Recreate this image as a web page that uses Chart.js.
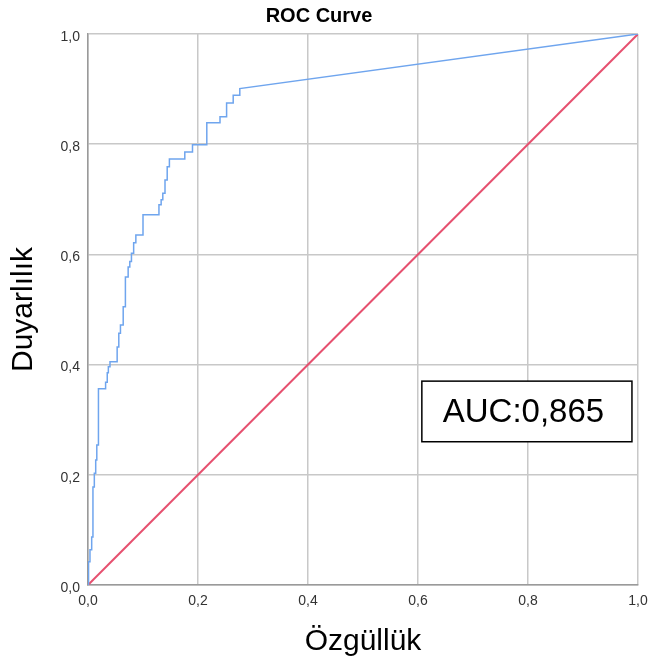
<!DOCTYPE html>
<html>
<head>
<meta charset="utf-8">
<script src="https://cdn.jsdelivr.net/npm/chart.js@4/dist/chart.umd.min.js"></script>
<style>
  html, body { margin: 0; padding: 0; background: #fff; }
  #wrap { width: 651px; height: 666px; }
</style>
</head>
<body>
<div id="wrap"><canvas id="roc"></canvas></div>
<script>
/* ROC curve — corner points */
const FPR = [0, 0.001, 0.0036, 0.0036, 0.0067, 0.0067, 0.009, 0.009, 0.0115, 0.0115,
  0.014, 0.014, 0.016, 0.016, 0.019, 0.019, 0.032, 0.032, 0.035, 0.035,
  0.037, 0.037, 0.04, 0.04, 0.053, 0.053, 0.056, 0.056, 0.059, 0.059,
  0.064, 0.064, 0.068, 0.068, 0.073, 0.073, 0.076, 0.076, 0.079, 0.079,
  0.083, 0.083, 0.087, 0.087, 0.1, 0.1, 0.129, 0.129, 0.133, 0.133,
  0.136, 0.136, 0.14, 0.14, 0.144, 0.144, 0.148, 0.148, 0.176, 0.176,
  0.19, 0.19, 0.216, 0.216, 0.24, 0.24, 0.252, 0.252, 0.264, 0.264,
  0.276, 0.276, 1];
const TPR = [0, 0.042, 0.042, 0.064, 0.064, 0.087, 0.087, 0.178, 0.178, 0.203,
  0.203, 0.227, 0.227, 0.254, 0.254, 0.356, 0.356, 0.368, 0.368, 0.385,
  0.385, 0.396, 0.396, 0.405, 0.405, 0.432, 0.432, 0.457, 0.457, 0.472,
  0.472, 0.505, 0.505, 0.559, 0.559, 0.577, 0.577, 0.587, 0.587, 0.602,
  0.602, 0.621, 0.621, 0.635, 0.635, 0.672, 0.672, 0.69, 0.69, 0.699,
  0.699, 0.711, 0.711, 0.735, 0.735, 0.759, 0.759, 0.773, 0.773, 0.786,
  0.786, 0.799, 0.799, 0.839, 0.839, 0.85, 0.85, 0.875, 0.875, 0.889,
  0.889, 0.901, 1];
const REF_X = [0, 1];
const REF_Y = [0, 1];

const AUC_TEXT = "AUC:0,865";
const AUC_BOX = { x0: 0.607, x1: 0.989, y0: 0.37, y1: 0.26, tx: 0.645 };

const FONT = "'Liberation Sans', Arial, sans-serif";
const fmt = (v) => v.toFixed(1).replace(".", ",");
const pts = (xs, ys) => xs.map((x, i) => ({ x, y: ys[i] }));

const aucBox = {
  id: "aucBox",
  afterDraw(chart) {
    const { ctx, scales: { x, y } } = chart;
    const l = x.getPixelForValue(AUC_BOX.x0), r = x.getPixelForValue(AUC_BOX.x1);
    const t = y.getPixelForValue(AUC_BOX.y0), b = y.getPixelForValue(AUC_BOX.y1);
    ctx.save();
    ctx.fillStyle = "#fff";
    ctx.fillRect(l, t, r - l, b - t);
    ctx.strokeStyle = "#000";
    ctx.lineWidth = 1.5;
    ctx.strokeRect(l, t, r - l, b - t);
    ctx.fillStyle = "#000";
    ctx.font = "33px " + FONT;
    ctx.textAlign = "left";
    ctx.textBaseline = "middle";
    ctx.fillText(AUC_TEXT, x.getPixelForValue(AUC_BOX.tx), (t + b) / 2 + 1);
    ctx.restore();
  }
};

new Chart(document.getElementById("roc"), {
  type: "scatter",
  data: {
    datasets: [
      {
        data: pts(FPR, TPR),
        showLine: true,
        borderColor: "#6fa5ee",
        borderWidth: 1.5,
        pointRadius: 0,
        tension: 0
      },
      {
        data: pts(REF_X, REF_Y),
        showLine: true,
        borderColor: "#e6506f",
        borderWidth: 2,
        pointRadius: 0
      }
    ]
  },
  options: {
    responsive: true,
    maintainAspectRatio: false,
    animation: false,
    layout: { padding: { right: 13, left: 0, top: 0, bottom: 0 } },
    plugins: {
      legend: { display: false },
      tooltip: { enabled: false },
      title: {
        display: true,
        text: "ROC Curve",
        color: "#000",
        font: { family: FONT, size: 20, weight: "bold" },
        padding: { top: 4, bottom: 6 }
      }
    },
    scales: {
      x: {
        type: "linear",
        min: 0,
        max: 1,
        ticks: { stepSize: 0.2, callback: fmt, color: "#333", padding: 8, font: { family: FONT, size: 14 } },
        grid: { color: "#c8c8c8", lineWidth: 1.5, drawTicks: false },
        border: { color: "#9a9a9a", width: 1.5 },
        title: { display: true, text: "Özgüllük", color: "#000", font: { family: FONT, size: 30 }, padding: { top: 0, bottom: 6 } },
        afterFit: (s) => { s.height = 81; s.paddingLeft = 0; s.paddingRight = 0; }
      },
      y: {
        type: "linear",
        min: 0,
        max: 1,
        ticks: { stepSize: 0.2, callback: fmt, color: "#333", padding: 8, labelOffset: 3, font: { family: FONT, size: 14 } },
        grid: { color: "#c8c8c8", lineWidth: 1.5, drawTicks: false },
        border: { color: "#9a9a9a", width: 1.5 },
        title: { display: true, text: "Duyarlılık", color: "#000", font: { family: FONT, size: 30 }, padding: { top: 6, bottom: 0 } },
        afterFit: (s) => { s.width = 88; s.paddingTop = 0; s.paddingBottom = 0; }
      }
    }
  },
  plugins: [aucBox]
});
</script>
</body>
</html>
